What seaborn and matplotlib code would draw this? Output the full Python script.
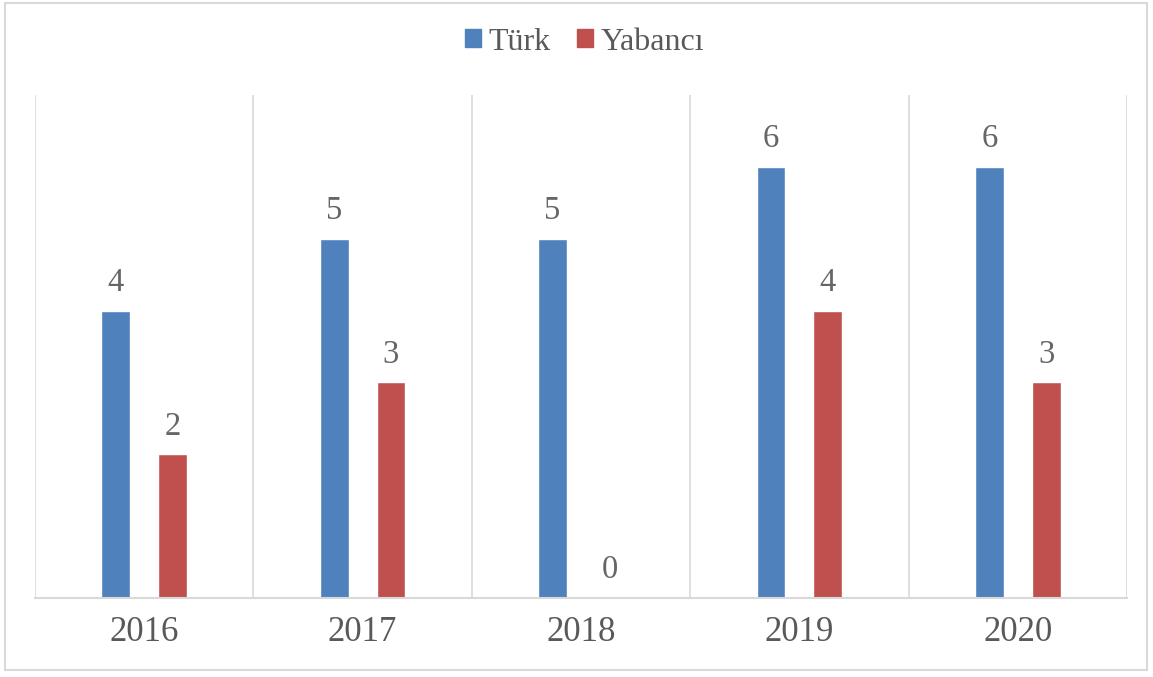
import numpy as np
import pandas as pd
import matplotlib
matplotlib.use("Agg")
import matplotlib.pyplot as plt
import matplotlib.patches as mpatches
import seaborn as sns

years = ["2016", "2017", "2018", "2019", "2020"]
turk = [4, 5, 5, 6, 6]
yabanci = [2, 3, 0, 4, 3]
series = ["Türk", "Yabancı"]
colors = ["#4F81BD", "#C0504D"]

sns.set_theme(style="white")
plt.rcParams["font.family"] = ["Liberation Serif", "DejaVu Serif"]
text_col = "#595959"
grid_col = "#D9D9D9"

df = pd.DataFrame({
    "Yıl": years * 2,
    "Değer": turk + yabanci,
    "Grup": [series[0]] * len(years) + [series[1]] * len(years),
})

fig = plt.figure(figsize=(11.53, 6.77), dpi=100)
ax = fig.add_axes([35 / 1153, 1 - 598 / 677, (1127 - 35) / 1153, (598 - 95) / 677])

sns.barplot(data=df, x="Yıl", y="Değer", hue="Grup", palette=colors,
            width=0.52, gap=0.49, saturation=1, ax=ax, legend=False)

for c in ax.containers:
    ax.bar_label(c, padding=9, fontsize=23.5, color="#666666")

ax.set_xlim(-0.5, len(years) - 0.5)
ax.set_ylim(0, 7)
for xb in np.arange(-0.5, len(years), 1.0):
    ax.axvline(xb, color=grid_col, lw=1.2, zorder=0)
for s in ["top", "right", "left"]:
    ax.spines[s].set_visible(False)
ax.spines["bottom"].set_color(grid_col)
ax.spines["bottom"].set_linewidth(1.5)
ax.set_yticks([])
ax.set_xlabel("")
ax.set_ylabel("")
ax.tick_params(axis="x", length=0, pad=13, labelsize=25, labelcolor=text_col)

handles = [mpatches.Patch(color=c, label=s) for c, s in zip(colors, series)]
fig.legend(handles=handles, loc="center", bbox_to_anchor=(0.507, 1 - 42 / 677),
           ncol=2, frameon=False, fontsize=23, labelcolor=text_col,
           handlelength=0.5, handleheight=0.5, handletextpad=0.25, columnspacing=0.8)

fig.patches.append(mpatches.Rectangle((5 / 1153, 1 - 670 / 677), 1142 / 1153, 667 / 677,
                                      transform=fig.transFigure, fill=False,
                                      edgecolor=grid_col, lw=1.5))

fig.savefig("out.png", dpi=100)
